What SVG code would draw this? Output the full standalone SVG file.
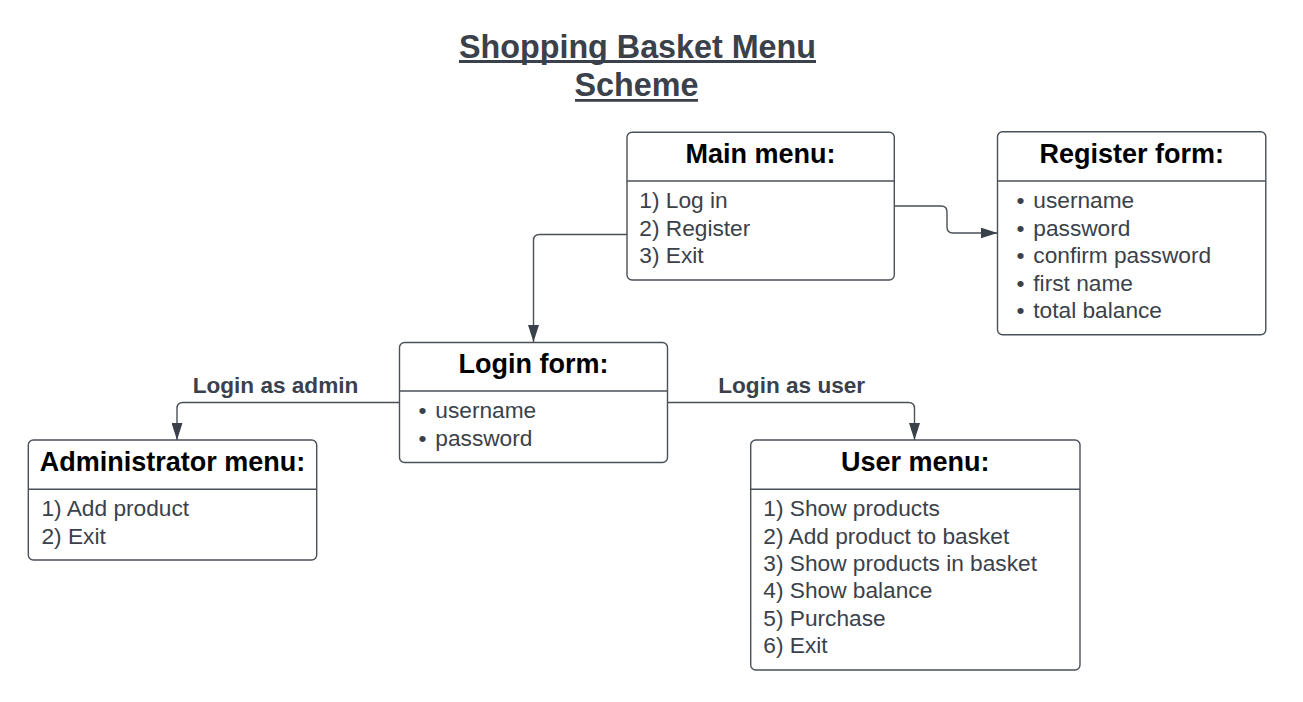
<svg xmlns="http://www.w3.org/2000/svg" width="1303" height="702" viewBox="0 0 1303 702">
<defs>
<style>
.box{fill:#ffffff;stroke:#4a5059;stroke-width:1.4}
.div{stroke:#4a5059;stroke-width:1.4}
.hd{font-family:"Liberation Sans",Arial,sans-serif;font-weight:bold;font-size:27px;fill:#000000;text-anchor:middle}
.it{font-family:"Liberation Sans",Arial,sans-serif;font-size:22.7px;fill:#3a414a}
.lbl{font-family:"Liberation Sans",Arial,sans-serif;font-weight:bold;font-size:22.6px;fill:#3a414a;text-anchor:middle}
.ttl{font-family:"Liberation Sans",Arial,sans-serif;font-weight:bold;font-size:32.3px;fill:#3a414a;text-anchor:middle}
.ul{stroke:#3a414a;stroke-width:2.8}
.con{fill:none;stroke:#4a5059;stroke-width:1.4}
</style>
<marker id="arr" viewBox="0 0 17 11" refX="17" refY="5.5" markerWidth="17" markerHeight="11" markerUnits="userSpaceOnUse" orient="auto">
<path d="M0,0 L17,5.5 L0,11 Z" fill="#3a414a"/>
</marker>
</defs>
<rect width="1303" height="702" fill="#ffffff"/>

<g id="title">
<text class="ttl" x="637.5" y="57.5">Shopping Basket Menu</text>
<line class="ul" x1="459" y1="61.5" x2="816" y2="61.5"/>
<text class="ttl" x="636.5" y="96">Scheme</text>
<line class="ul" x1="575" y1="100.3" x2="698" y2="100.3"/>
</g>

<g id="connectors">
<path class="con" d="M627,234.5 H539.5 Q533.5,234.5 533.5,240.5 V342" marker-end="url(#arr)"/>
<path class="con" d="M894,206 H941 Q947,206 947,212 V227 Q947,233 953,233 H997.5" marker-end="url(#arr)"/>
<path class="con" d="M399.5,402.5 H183 Q177,402.5 177,408.5 V440" marker-end="url(#arr)"/>
<path class="con" d="M667.5,402.5 H908.5 Q914.5,402.5 914.5,408.5 V440" marker-end="url(#arr)"/>
<text class="lbl" x="275.5" y="393">Login as admin</text>
<text class="lbl" x="791.7" y="393">Login as user</text>
</g>

<g id="main-menu">
<rect class="box" x="627" y="132.3" width="267.3" height="147.7" rx="5"/>
<line class="div" x1="627" y1="181" x2="894.3" y2="181"/>
<text class="hd" x="760.6" y="163.3">Main menu:</text>
<text class="it" x="639.3" y="208.3">1) Log in</text>
<text class="it" x="639.3" y="235.6">2) Register</text>
<text class="it" x="639.3" y="262.9">3) Exit</text>
</g>

<g id="register-form">
<rect class="box" x="997.5" y="131.8" width="268.3" height="203" rx="5"/>
<line class="div" x1="997.5" y1="181" x2="1265.8" y2="181"/>
<text class="hd" x="1131.7" y="162.5">Register form:</text>
<text class="it" y="208.3"><tspan x="1016.5">•</tspan><tspan x="1033.3">username</tspan></text>
<text class="it" y="235.8"><tspan x="1016.5">•</tspan><tspan x="1033.3">password</tspan></text>
<text class="it" y="263.3"><tspan x="1016.5">•</tspan><tspan x="1033.3">confirm password</tspan></text>
<text class="it" y="290.8"><tspan x="1016.5">•</tspan><tspan x="1033.3">first name</tspan></text>
<text class="it" y="318.3"><tspan x="1016.5">•</tspan><tspan x="1033.3">total balance</tspan></text>
</g>

<g id="login-form">
<rect class="box" x="399.5" y="342.5" width="268" height="120" rx="5"/>
<line class="div" x1="399.5" y1="391" x2="667.5" y2="391"/>
<text class="hd" x="533.5" y="372.7">Login form:</text>
<text class="it" y="418.3"><tspan x="418.5">•</tspan><tspan x="435.3">username</tspan></text>
<text class="it" y="445.8"><tspan x="418.5">•</tspan><tspan x="435.3">password</tspan></text>
</g>

<g id="administrator-menu">
<rect class="box" x="28.3" y="440" width="288.4" height="120" rx="5"/>
<line class="div" x1="28.3" y1="489.3" x2="316.7" y2="489.3"/>
<text class="hd" x="172.5" y="471">Administrator menu:</text>
<text class="it" x="41.5" y="516.3">1) Add product</text>
<text class="it" x="41.5" y="543.8">2) Exit</text>
</g>

<g id="user-menu">
<rect class="box" x="750.7" y="440" width="329.3" height="230" rx="5"/>
<line class="div" x1="750.7" y1="489.3" x2="1080" y2="489.3"/>
<text class="hd" x="915.3" y="471">User menu:</text>
<text class="it" x="763.3" y="516">1) Show products</text>
<text class="it" x="763.3" y="543.5">2) Add product to basket</text>
<text class="it" x="763.3" y="571">3) Show products in basket</text>
<text class="it" x="763.3" y="598.4">4) Show balance</text>
<text class="it" x="763.3" y="625.9">5) Purchase</text>
<text class="it" x="763.3" y="653.3">6) Exit</text>
</g>
</svg>
